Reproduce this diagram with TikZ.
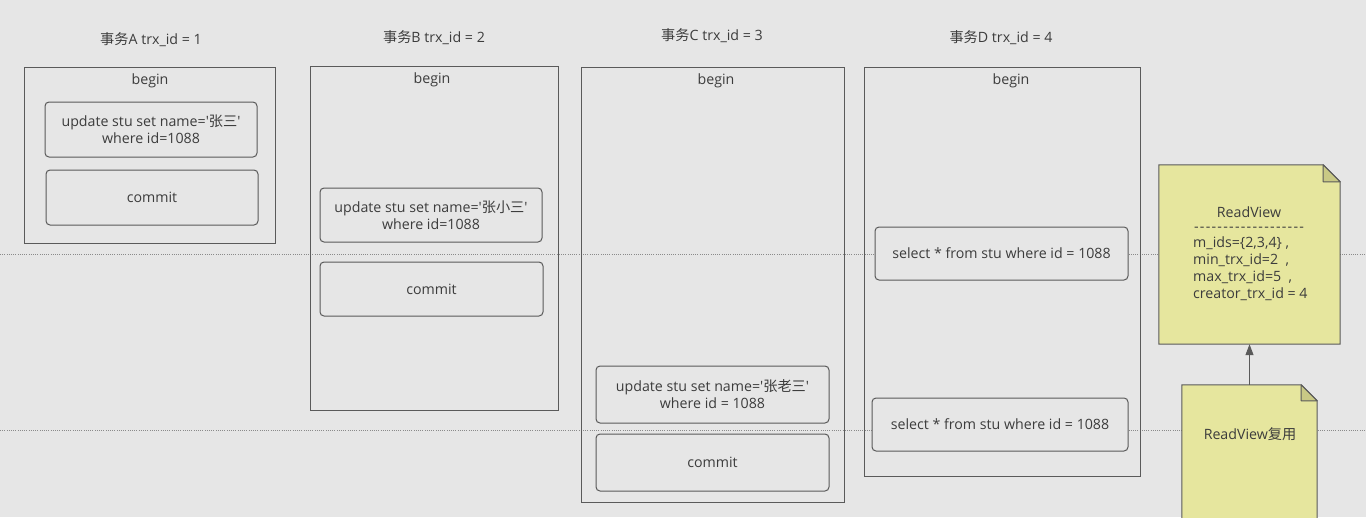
\documentclass[tikz,border=0pt]{standalone}
\usepackage{fontspec}
\newfontfamily\latinf{Open Sans}
\newfontfamily\cjk{Noto Sans CJK SC}
\usetikzlibrary{arrows.meta,calc}
\definecolor{bg}{HTML}{E6E6E6}
\definecolor{ln}{HTML}{5A5A5A}
\definecolor{tx}{HTML}{3C3C3C}
\definecolor{notefill}{HTML}{E6E69E}
\definecolor{foldfill}{HTML}{C9C985}
\definecolor{dotc}{HTML}{8A8A8A}
\newcommand{\dsh}{\makebox[5.85pt]{-}}
\begin{document}
\begin{tikzpicture}[x=1pt,y=-1pt,
  every node/.style={text=tx, font=\latinf\fontsize{14.2}{17}\selectfont, inner sep=0pt},
  outerbox/.style={draw=ln, line width=1pt, minimum width=#1, anchor=north west},
  innerbox/.style={draw=ln, line width=1pt, rounded corners=4pt, fill=bg, align=center},
  dotline/.style={draw=dotc, line width=0.7pt, dash pattern=on 0.8pt off 1.4pt}]
\clip (0,0) rectangle (1366,517);
\fill[bg] (0,0) rectangle (1366,517);
% dotted guide lines
\coordinate (l1a) at (0,254); \coordinate (l1b) at (1366,254);
\coordinate (l2a) at (0,430); \coordinate (l2b) at (1366,430);
\draw[dotline] (l1a) -- (l1b);
\draw[dotline] (l2a) -- (l2b);
% titles
\node (tA) at (151,40) {{\cjk 事务}A trx\_id = 1};
\node (tB) at (434,38) {{\cjk 事务}B trx\_id = 2};
\node (tC) at (712,36) {{\cjk 事务}C trx\_id = 3};
\node (tD) at (1001,38) {{\cjk 事务}D trx\_id = 4};
% outer boxes
\node[outerbox=251pt, minimum height=176pt] (A) at (24,67) {};
\node[outerbox=248pt, minimum height=344pt] (B) at (310,66) {};
\node[outerbox=263pt, minimum height=435pt] (C) at (581,67) {};
\node[outerbox=276pt, minimum height=409pt] (D) at (864,67) {};
\node (bA) at (150,81) {begin};
\node (bB) at (432,80) {begin};
\node (bC) at (716,81) {begin};
\node (bD) at (1011,81) {begin};
% inner boxes
\node[innerbox, minimum width=212pt, minimum height=55pt] (uA) at (151,129.5) {update stu set name='{\cjk 张三}'\\where id=1088};
\node[innerbox, minimum width=212pt, minimum height=55pt] (cA) at (152,197.5) {commit};
\node[innerbox, minimum width=222pt, minimum height=54pt] (uB) at (431,215) {update stu set name='{\cjk 张小三}'\\where id=1088};
\node[innerbox, minimum width=223pt, minimum height=54pt] (cB) at (431.5,289) {commit};
\node[innerbox, minimum width=233pt, minimum height=57pt] (uC) at (712.5,394.5) {update stu set name='{\cjk 张老三}'\\where id = 1088};
\node[innerbox, minimum width=233pt, minimum height=57pt] (cC) at (712.5,462.5) {commit};
\node[innerbox, minimum width=253pt, minimum height=53pt] (sD1) at (1001.5,253.5) {select * from stu where id = 1088};
\node[innerbox, minimum width=256pt, minimum height=53pt] (sD2) at (1000,424.5) {select * from stu where id = 1088};
% ReadView note
\node[minimum width=181pt, minimum height=179pt] (RV) at (1249.5,254.5) {};
\filldraw[fill=notefill, draw=ln, line width=1pt]
  (RV.north west) -- ($(RV.north east)+(-17,0)$) -- ($(RV.north east)+(0,17)$)
  -- (RV.south east) -- (RV.south west) -- cycle;
\filldraw[fill=foldfill, draw=ln, line width=1pt, line join=round]
  ($(RV.north east)+(-17,0)$) -- ($(RV.north east)+(-17,17)$) -- ($(RV.north east)+(0,17)$) -- cycle;
\node (rvt) at (1249,212) {ReadView};
\node (rvd) at (1249,229) {\dsh\dsh\dsh\dsh\dsh\dsh\dsh\dsh\dsh\dsh\dsh\dsh\dsh\dsh\dsh\dsh\dsh\dsh\dsh};
\node[anchor=north west, align=left] (rvb) at (1193,237) {m\_ids=\{2,3,4\}~,\\min\_trx\_id=2~~,\\max\_trx\_id=5~~,\\creator\_trx\_id = 4};
% ReadView reuse note
\node[minimum width=135pt, minimum height=145pt] (RU) at (1249.5,457.5) {};
\filldraw[fill=notefill, draw=ln, line width=1pt]
  (RU.north west) -- ($(RU.north east)+(-16,0)$) -- ($(RU.north east)+(0,16)$)
  -- (RU.south east) -- (RU.south west) -- cycle;
\filldraw[fill=foldfill, draw=ln, line width=1pt, line join=round]
  ($(RU.north east)+(-16,0)$) -- ($(RU.north east)+(-16,16)$) -- ($(RU.north east)+(0,16)$) -- cycle;
\node (rut) at (1250,434) {ReadView{\cjk 复用}};
% arrow
\draw[draw=ln, line width=1pt, -{Triangle[length=11pt,width=8pt]}] (RU.north) -- (RV.south);
\end{tikzpicture}
\end{document}
